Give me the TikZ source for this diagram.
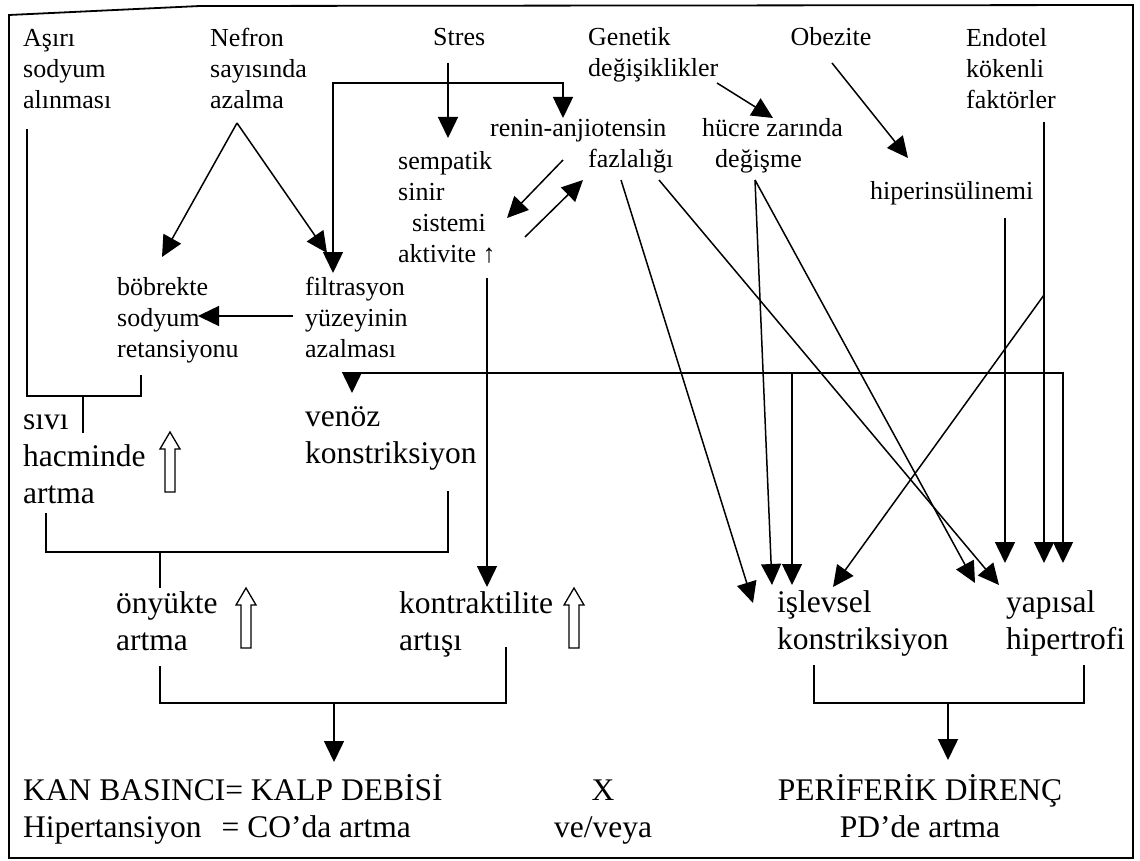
\documentclass[tikz,border=0pt]{standalone}
\usepackage{fontspec}
\setmainfont{Liberation Serif}
\usetikzlibrary{arrows.meta}
\begin{document}
\begin{tikzpicture}[x=1pt,y=-1pt,
  sm/.style={font=\fontsize{26}{31}\selectfont, inner sep=0pt, align=left, anchor=base west},
  lg/.style={font=\fontsize{31.5}{37}\selectfont, inner sep=0pt, align=left, anchor=base west},
  ln/.style={line width=1.5pt},
  arr/.style={ln, -{Triangle[width=20pt,length=21pt]}},
  arrs/.style={ln, {Triangle[width=20pt,length=21pt]}-{Triangle[width=20pt,length=21pt]}},
  hup/.pic={\draw[line width=1.3pt] (0,0) -- (10,17) -- (5,17) -- (5,60) -- (-5,60) -- (-5,17) -- (-10,17) -- cycle;}
]
\useasboundingbox (0,0) rectangle (1140,861);
% frame
\draw[line width=1.8pt] (9,858) -- (9,15) -- (200,6) -- (1133,5) -- (1133,858) -- cycle;

% top row (base anchor = last line baseline)
\node[sm] (asiri) at (23,109) {Aşırı\\sodyum\\alınması};
\node[sm] (nefron) at (210,109) {Nefron\\sayısında\\azalma};
\node[sm] (stres) at (433,46) {Stres};
\node[sm] (genetik) at (588,77) {Genetik\\değişiklikler};
\node[sm, anchor=base] (obez) at (831,46) {Obezite};
\node[sm] (endo) at (966,109) {Endotel\\kökenli\\faktörler};

% second level
\node[sm] (renin) at (490,168) {renin-anjiotensin\\\hspace*{98pt}fazlalığı};
\node[sm] (hucre) at (702,168) {hücre zarında\\\hspace*{13pt}değişme};
\node[sm] (symp) at (398,262) {sempatik\\sinir\\\hspace*{14pt}sistemi\\aktivite ↑};
\node[sm] (hiper) at (870,200) {hiperinsülinemi};
\node[sm] (bobrek) at (117,357) {böbrekte\\sodyum\\retansiyonu};
\node[sm] (filt) at (305,357) {filtrasyon\\yüzeyinin\\azalması};

% large
\node[lg] (sivi) at (23,503) {sıvı\\hacminde\\artma};
\node[lg] (venoz) at (305,463) {venöz\\konstriksiyon};
\node[lg] (onyuk) at (116,650) {önyükte\\artma};
\node[lg] (kontr) at (399,650) {kontraktilite\\artışı};
\node[lg] (islev) at (777,649) {işlevsel\\konstriksiyon};
\node[lg] (yapi) at (1006,649) {yapısal\\hipertrofi};
\node[lg] (kan) at (23,837) {KAN BASINCI= KALP DEBİSİ\\Hipertansiyon\hspace{20pt}= CO’da artma};
\node[lg, align=center, anchor=base] (x) at (603,837) {X\\ve/veya};
\node[lg, align=center, anchor=base] (pd) at (920,837) {PERİFERİK DİRENÇ\\PD’de artma};

% hollow up arrows
\pic at (170,432) {hup};
\pic at (246,588) {hup};
\pic at (574,588) {hup};

% coordinates
\coordinate (nefA) at (237,123);
\coordinate (bobT) at (162,257);
\coordinate (filT) at (327,253);
\coordinate (filV) at (333,273);
\coordinate (renT) at (563,118);
\coordinate (stS) at (448,63);
\coordinate (syT) at (448,138);
\coordinate (genS) at (717,83);
\coordinate (hucT) at (773,118);
\coordinate (obS) at (832,63);
\coordinate (hipT) at (908,158);
\coordinate (renA) at (563,160);
\coordinate (syA) at (507,218);
\coordinate (syB) at (525,237);
\coordinate (renB) at (583,180);
\coordinate (filL) at (293,316);
\coordinate (bobR) at (198,316);
\coordinate (syV) at (487,278);
\coordinate (konT) at (487,587);
\coordinate (busL) at (352,373);
\coordinate (venT) at (352,393);
\coordinate (busR) at (1063,373);
\coordinate (busM) at (792,373);
\coordinate (hipS) at (1005,218);
\coordinate (endS) at (1044,122);
\coordinate (endB) at (1044,295);
\coordinate (fzL) at (621,180);
\coordinate (fzR) at (659,180);
\coordinate (dgS) at (755,180);

% arrows top
\draw[arr] (nefA) -- (bobT);
\draw[arr] (nefA) -- (filT);
\draw[arrs] (filV) -- (333,83) -- (563,83) -- (renT);
\draw[arr] (stS) -- (syT);
\draw[arr] (genS) -- (hucT);
\draw[arr] (obS) -- (hipT);
\draw[arr] (renA) -- (syA);
\draw[arr] (syB) -- (renB);
\draw[arr] (filL) -- (bobR);

% sodium bracket
\draw[ln] (27,129) -- (27,396) -- (141,396) -- (141,375);
\draw[ln] (83,396) -- (83,433);

% sympathetic vertical and bus
\draw[arr] (syV) -- (konT);
\draw[arr] (busL) -- (venT);
\draw[arr] (busL) -- (busR) -- (1063,563);
\draw[arr] (busM) -- (792,585);

% right arrows
\draw[arr] (hipS) -- (1005,563);
\draw[arr] (endS) -- (1044,563);
\draw[arr] (endB) -- (833,587);
\draw[arr] (fzL) -- (753,603);
\draw[arr] (fzR) -- (999,585);
\draw[arr] (dgS) -- (772,585);
\draw[arr] (dgS) -- (975,583);

% lower brackets
\draw[ln] (46,513) -- (46,552) -- (448,552) -- (448,491);
\draw[ln] (160,552) -- (160,588);
\draw[ln] (160,666) -- (160,703) -- (506,703) -- (506,647);
\draw[arr] (334,703) -- (334,762);
\draw[ln] (814,665) -- (814,703) -- (1084,703) -- (1084,665);
\draw[arr] (948,703) -- (948,760);
\end{tikzpicture}
\end{document}
